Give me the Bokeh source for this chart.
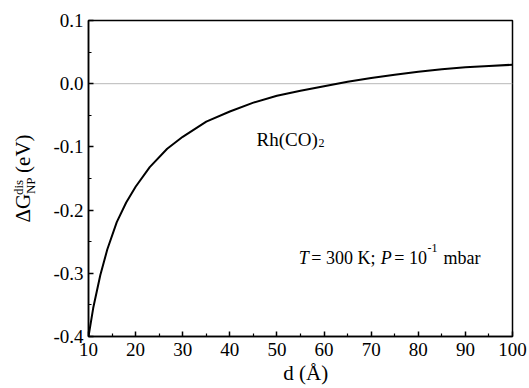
import math
from bokeh.plotting import figure
from bokeh.models import Range1d, FixedTicker, NumeralTickFormatter, Span, Label
from bokeh.embed import file_html
from bokeh.resources import INLINE

# ---- data ----
d_values = [10, 11, 12.5, 14, 16, 18, 20, 23, 26.7, 30, 35, 40, 45, 50, 55, 60,
            65, 70, 75, 80, 85, 90, 95, 100]
dg_values = [-0.400, -0.355, -0.303, -0.262, -0.219, -0.188, -0.163, -0.132, -0.103,
             -0.084, -0.060, -0.044, -0.030, -0.019, -0.011, -0.004, 0.003, 0.009,
             0.014, 0.019, 0.023, 0.026, 0.028, 0.030]

x_ticks = [10, 20, 30, 40, 50, 60, 70, 80, 90, 100]
x_minor = [15, 25, 35, 45, 55, 65, 75, 85, 95]
y_ticks = [-0.4, -0.3, -0.2, -0.1, 0.0, 0.1]
y_minor = [-0.35, -0.25, -0.15, -0.05, 0.05]

FONT = "Liberation Serif"
NB = "\u00a0"

p = figure(width=529, height=388, output_backend="svg", toolbar_location=None,
           x_range=Range1d(10, 100), y_range=Range1d(-0.4, 0.1),
           min_border_left=88, min_border_right=17, min_border_top=20,
           min_border_bottom=52)
p.xgrid.visible = False
p.ygrid.visible = False
p.background_fill_color = "white"
p.border_fill_color = "white"
p.outline_line_color = "black"
p.outline_line_width = 1.5
p.outline_line_alpha = 1.0

for ax in (p.xaxis[0], p.yaxis[0]):
    ax.axis_line_width = 1.5
    ax.axis_line_color = "black"
    ax.major_tick_in = 5
    ax.major_tick_out = 0
    ax.minor_tick_in = 3
    ax.minor_tick_out = 0
    ax.major_tick_line_width = 1.5
    ax.minor_tick_line_width = 1.2
    ax.major_label_text_font = FONT
    ax.major_label_text_font_size = "19px"
    ax.major_label_text_color = "black"
    ax.axis_label_text_font = FONT
    ax.axis_label_text_font_style = "normal"
    ax.axis_label_text_color = "black"

p.xaxis[0].ticker = FixedTicker(ticks=x_ticks, minor_ticks=x_minor)
p.yaxis[0].ticker = FixedTicker(ticks=y_ticks, minor_ticks=y_minor)
p.yaxis[0].formatter = NumeralTickFormatter(format="0.0")
p.xaxis[0].major_label_standoff = 6
p.yaxis[0].major_label_standoff = 5

p.xaxis[0].axis_label = NB * 2 + "d (Å)"
p.xaxis[0].axis_label_text_font_size = "21px"
p.xaxis[0].axis_label_standoff = 2

p.yaxis[0].axis_label = "ΔG" + NB * 4 + "(eV)"
p.yaxis[0].axis_label_text_font_size = "21px"
p.yaxis[0].axis_label_standoff = 15

def piece(x, y, text, size, style="normal", units="data", angle=0.0, place="center"):
    p.add_layout(Label(x=x, y=y, x_units=units, y_units=units, text=text,
                       text_font=FONT, text_font_size=f"{size}px",
                       text_font_style=style, text_color="black",
                       text_align="left", text_baseline="alphabetic", angle=angle),
                 place)

# superscript / subscript of the y-axis title (side panels, so not clipped)
a = math.pi / 2
piece(-494.5, 141.5, "dis", 13, units="screen", angle=a, place="right")
piece(-58.5, -173.6, "NP", 13, units="screen", angle=a, place="above")

# in-plot annotations
piece(45.66, -0.0875, "Rh(CO)", 19)
piece(58.8, -0.0946, "2", 12)

piece(54.63, -0.275, "T", 18, "italic")
piece(57.3, -0.275, "= 300 K;", 18)
piece(72.01, -0.275, "P", 18, "italic")
piece(74.9, -0.275, "= 10", 18)
piece(81.95, -0.2592, "-1", 12)
piece(85.37, -0.275, "mbar", 18)

p.line(d_values, dg_values, line_color="black", line_width=2)

p.add_layout(Span(location=0, dimension="width", line_color="#b8b8b8",
                  line_width=1, level="underlay"))

open("out.html", "w").write(file_html(p, INLINE))
